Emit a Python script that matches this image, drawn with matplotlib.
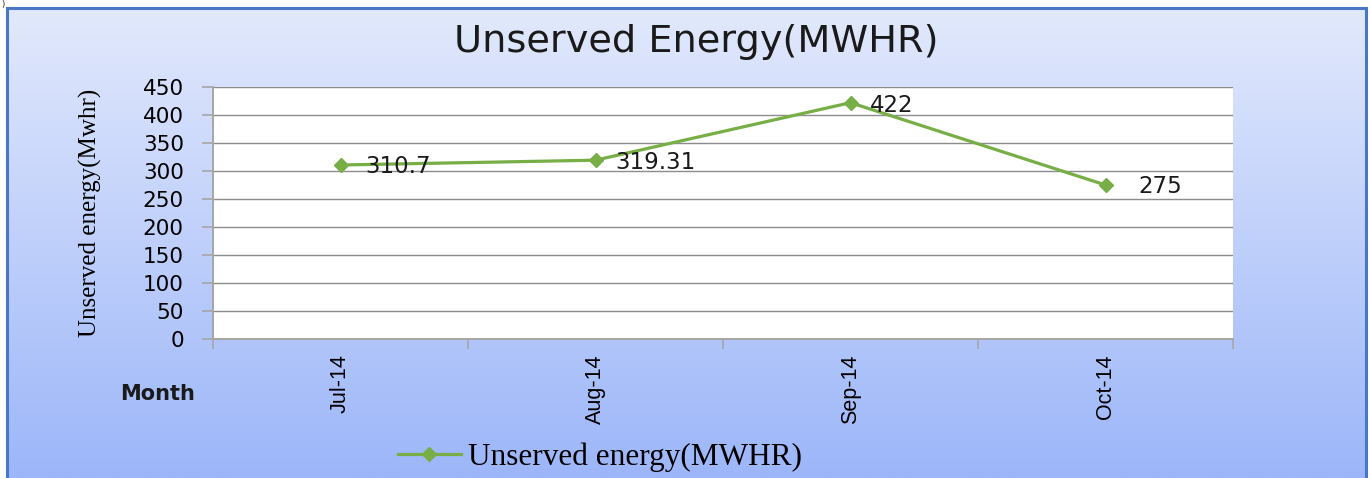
import numpy as np
import matplotlib
matplotlib.use("Agg")
import matplotlib.pyplot as plt
from matplotlib.lines import Line2D

months = ["Jul-14", "Aug-14", "Sep-14", "Oct-14"]
energy = [310.7, 319.31, 422, 275]
energy_labels = ["310.7", "319.31", "422", "275"]
y_ticks = [0, 50, 100, 150, 200, 250, 300, 350, 400, 450]

W, H = 1371, 478
GREEN = "#78ae46"
GRID = "#8c8c8c"
AXIS = "#a6a6a6"


def fx(px):
    return px / W


def fy(py):
    return 1 - py / H


fig = plt.figure(figsize=(W / 100, H / 100), dpi=100)
fig.patch.set_facecolor("white")

# gradient background of the chart frame
bg = fig.add_axes([fx(7), 0, fx(1366) - fx(7), fy(8)])
grad = np.linspace(0, 1, 256).reshape(-1, 1)
top = np.array([226, 233, 252]) / 255
bottom = np.array([156, 182, 249]) / 255
img = top + grad[..., None] * (bottom - top)
bg.imshow(img, aspect="auto", extent=[0, 1, 0, 1], origin="upper")
bg.set_xlim(0, 1)
bg.set_ylim(0, 1)
bg.set_xticks([])
bg.set_yticks([])
for side, sp in bg.spines.items():
    sp.set_color("#4a76c8")
    sp.set_linewidth(2.2)
bg.spines["bottom"].set_visible(False)

fig.text(fx(1), fy(0), ")", fontsize=6, va="top", ha="left", color="#222222")

ax_left, ax_right, ax_top, ax_bottom = 213, 1233, 87, 339
ax = fig.add_axes([fx(ax_left), fy(ax_bottom), fx(ax_right) - fx(ax_left),
                   fy(ax_top) - fy(ax_bottom)])
ax.set_facecolor("white")
x = np.arange(len(months))
ax.plot(x, energy, color=GREEN, lw=2.3, marker="D", markersize=7,
        markerfacecolor=GREEN, markeredgecolor=GREEN, zorder=3,
        label="Unserved energy(MWHR)")

offsets = [(18, -1), (14, -2), (14, -2), (24, -1)]
for xi, yi, lab, off in zip(x, energy, energy_labels, offsets):
    ax.annotate(lab, (xi, yi), xytext=off, textcoords="offset points",
                ha="left", va="center", fontsize=16.5, color="#1a1a1a",
                family="DejaVu Sans", zorder=4)

ax.set_xlim(-0.5, len(months) - 0.5)
ax.set_ylim(0, 450)
ax.set_yticks(y_ticks)
ax.set_yticklabels([str(v) for v in y_ticks], fontsize=15.5, family="DejaVu Sans")
ax.yaxis.grid(True, color=GRID, lw=1.0)
ax.set_axisbelow(True)

ax.set_xticks(x)
ax.set_xticklabels(months, rotation=90, fontsize=15.5,
                   family=["Liberation Sans Narrow", "Liberation Sans"])
ax.set_xticks(np.arange(len(months) + 1) - 0.5, minor=True)
ax.tick_params(axis="x", which="major", length=0, pad=11)
ax.tick_params(axis="x", which="minor", length=7, color=AXIS, width=1.2, direction="out")
ax.tick_params(axis="y", length=8, color=AXIS, width=1.2, pad=13)

for side in ["top", "right"]:
    ax.spines[side].set_visible(False)
for side in ["left", "bottom"]:
    ax.spines[side].set_color(AXIS)
    ax.spines[side].set_linewidth(1.4)

ax.set_ylabel("Unserved energy(Mwhr)", family="Liberation Serif", fontsize=18,
              va="center")
ax.yaxis.set_label_coords((90 - ax_left) / (ax_right - ax_left), 0.5)

fig.text(fx(120), fy(394), "Month", fontsize=15, fontweight="bold",
         family="DejaVu Sans", ha="left", va="center", color="#1a1a1a")

fig.text(fx(696), fy(42), "Unserved Energy(MWHR)", fontsize=27.5,
         family="DejaVu Sans", ha="center", va="center", color="#1a1a1a")

handle = Line2D([], [], color=GREEN, lw=2.3, marker="D", markersize=7)
fig.legend([handle], ["Unserved energy(MWHR)"], loc="center left",
           bbox_to_anchor=(fx(398), fy(457)), frameon=False,
           prop={"family": "Liberation Serif", "size": 22.5},
           handlelength=2.0, handletextpad=0.25, borderpad=0, borderaxespad=0)

fig.savefig("out.png", dpi=100)
